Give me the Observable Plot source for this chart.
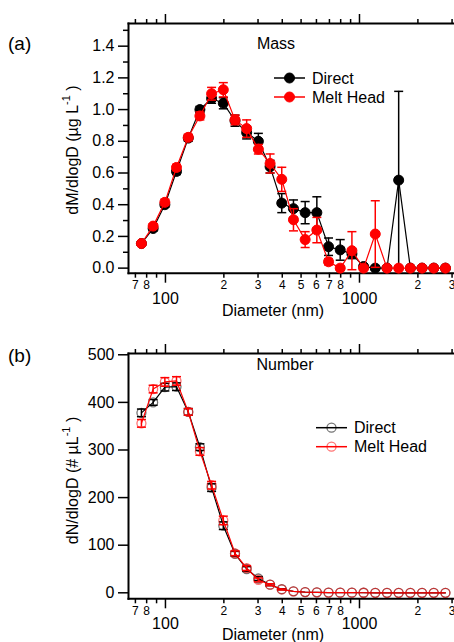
<!DOCTYPE html>
<html><head><meta charset="utf-8">
<script src="https://cdn.jsdelivr.net/npm/d3@7"></script>
<script src="https://cdn.jsdelivr.net/npm/@observablehq/plot@0.6"></script>
<style>
body{margin:0;background:#fff;font-family:"Liberation Sans",Arial,sans-serif;}
#wrap{position:relative;width:454px;height:642px;overflow:hidden;background:#fff;}
#a,#b{position:absolute;left:0;}
#a{top:0;}#b{top:320px;}
</style></head><body>
<div id="wrap"><div id="a"></div><div id="b"></div></div>
<script>
// Diameter bins (nm)
const diameter = [75.2, 86.4, 99.3, 114.0, 131.1, 150.5, 172.9, 198.7, 228.3, 262.1, 301.2, 346.1, 397.6, 456.8, 524.8, 602.9, 692.6, 795.6, 914.1, 1050, 1206, 1386, 1592, 1829, 2101, 2414, 2773];

// (a) Mass dM/dlogD (ug L-1)
const massDirect    = [0.155, 0.25, 0.40, 0.61, 0.82, 1.00, 1.07, 1.04, 0.93, 0.855, 0.80, 0.64, 0.41, 0.375, 0.35, 0.35, 0.135, 0.115, 0.09, 0.01, 0.00, 0.00, 0.555, 0.00, 0.00, 0.00, 0.00];
const massDirectErr = [0.01, 0.015, 0.015, 0.02, 0.02, 0.02, 0.03, 0.035, 0.035, 0.04, 0.05, 0.04, 0.06, 0.055, 0.07, 0.10, 0.055, 0.065, 0.03, 0.01, 0.01, 0, 0.56, 0, 0, 0, 0];
const massMelt      = [0.155, 0.265, 0.415, 0.635, 0.825, 0.96, 1.10, 1.125, 0.935, 0.88, 0.75, 0.66, 0.56, 0.305, 0.18, 0.24, 0.04, 0.00, 0.11, 0.00, 0.215, 0.00, 0.00, 0.00, 0.00, 0.00, 0.00];
const massMeltErr   = [0.01, 0.015, 0.02, 0.02, 0.02, 0.025, 0.04, 0.045, 0.03, 0.055, 0.03, 0.06, 0.076, 0.07, 0.05, 0.08, 0.02, 0, 0.12, 0, 0.21, 0, 0, 0, 0, 0, 0];

// (b) Number dN/dlogD (# uL-1)
const numDirect    = [378, 400, 432, 433, 380, 306, 221, 141, 82, 50, 30, 17, 7.5, 3, 1.5, 1, 0.5, 0.3, 0.2, 0.1, 0.05, 0, 0, 0, 0, 0, 0];
const numDirectErr = [8, 6, 8, 8, 7, 7, 8, 8, 5, 5, 4, 2, 1, 0, 0, 0, 0, 0, 0, 0, 0, 0, 0, 0, 0, 0, 0];
const numMelt      = [356, 428, 443, 445, 380, 297, 226, 152, 83, 52, 27, 17, 7, 3, 1.5, 1, 0.5, 0.3, 0.2, 0.1, 0.05, 0, 0, 0, 0, 0, 0];
const numMeltErr   = [8, 8, 9, 9, 7, 8, 8, 9, 5, 5, 4, 2, 1, 0, 0, 0, 0, 0, 0, 0, 0, 0, 0, 0, 0, 0, 0];

// Axis ticks
const xMinorTicks  = [70, 80, 90, 200, 300, 400, 500, 600, 700, 800, 900, 2000, 3000];
const xMinorLabels = ["7", "8", "", "2", "3", "4", "5", "6", "7", "8", "", "2", "3"];
const xMajorTicks  = [100, 1000];
const massMajorTicks = [0, 0.2, 0.4, 0.6, 0.8, 1.0, 1.2, 1.4];
const massMinorTicks = [0.1, 0.3, 0.5, 0.7, 0.9, 1.1, 1.3, 1.5];
const numMajorTicks  = [0, 100, 200, 300, 400, 500];

const seriesNames = ["Direct", "Melt Head"];
const seriesColors = ["#000000", "#ff0000"];

const cap = {draw(ctx) { ctx.moveTo(-4.5, 0); ctx.lineTo(4.5, 0); }};

function rows(vals, errs) {
  return diameter.map((d, i) => ({d, v: vals[i], e: errs[i]}));
}

function seriesMarks(data, color, filled) {
  const eb = data.filter(r => r.e > 0);
  return [
    Plot.ruleX(eb, {x: "d", y1: r => r.v - r.e, y2: r => r.v + r.e, stroke: color, strokeWidth: 1.5}),
    Plot.dot(eb, {x: "d", y: r => r.v + r.e, symbol: cap, fill: "none", stroke: color, strokeWidth: 1.5}),
    Plot.dot(eb, {x: "d", y: r => r.v - r.e, symbol: cap, fill: "none", stroke: color, strokeWidth: 1.5}),
    Plot.line(data, {x: "d", y: "v", stroke: color, strokeWidth: 1.2}),
    Plot.dot(data, {x: "d", y: "v", r: filled ? 5 : 4.5, fill: filled ? color : "none", stroke: color,
      strokeOpacity: filled ? 1 : 0.55, strokeWidth: filled ? 1 : 1.3})
  ];
}

function panel({series, yDomain, height, marginTop, marginBottom, yMajor, yMinor, yFormat, filled, minorDy}) {
  const marks = [
    Plot.frame({anchor: "left", strokeWidth: 2}),
    Plot.frame({anchor: "bottom", strokeWidth: 2}),
    Plot.frame({anchor: "top", strokeWidth: 2}),
    Plot.axisX({anchor: "top", ticks: xMinorTicks, tickSize: 5, tickFormat: () => "", label: null, strokeWidth: 1.5}),
    Plot.axisX({anchor: "top", ticks: xMajorTicks, tickSize: 10, tickFormat: () => "", label: null, strokeWidth: 1.5}),
    Plot.axisX({anchor: "bottom", ticks: xMinorTicks, tickSize: 5, tickFormat: () => "", label: null, strokeWidth: 1.5}),
    Plot.text(xMinorTicks, {x: d => d, text: (d, i) => xMinorLabels[i], frameAnchor: "bottom", dy: minorDy, fontSize: 12, lineAnchor: "middle"}),
    Plot.axisX({anchor: "bottom", ticks: xMajorTicks, tickSize: 10, tickPadding: 9, tickFormat: d => String(d), label: null, fontSize: 16, strokeWidth: 1.5}),
    Plot.axisY({ticks: yMajor, tickSize: 10, tickPadding: 4, tickFormat: yFormat, label: null, fontSize: 16, strokeWidth: 1.5})
  ];
  if (yMinor) marks.push(Plot.axisY({ticks: yMinor, tickSize: 5, tickFormat: () => "", label: null, strokeWidth: 1.5}));
  series.forEach((s, i) => marks.push(...seriesMarks(s, seriesColors[i], filled)));
  return Plot.plot({
    width: 454, height, marginLeft: 128, marginRight: 0, marginTop, marginBottom,
    x: {type: "log", domain: [64.5, 3088]},
    y: {domain: yDomain},
    style: {fontFamily: "Liberation Sans, Arial, sans-serif", fontSize: "16px", color: "#000", background: "transparent", overflow: "visible"},
    marks
  });
}

function annotate(svg, {tag, title, titleX, titleY, ylabel, ylabelY, xlabelY, legendX, legendY, filled}) {
  const s = d3.select(svg);
  const ff = "Liberation Sans, Arial, sans-serif";
  s.append("text").attr("x", 8).attr("y", tag[1]).attr("text-anchor", "start").attr("font-size", 19).attr("font-family", ff).attr("fill", "#000").text(tag[0]);
  s.append("text").attr("x", titleX).attr("y", titleY).attr("text-anchor", "middle").attr("font-size", 16).attr("font-family", ff).attr("fill", "#000").text(title);
  const yl = s.append("text").attr("transform", `translate(77.5,${ylabelY}) rotate(-90)`).attr("text-anchor", "middle")
    .attr("font-size", 16).attr("font-family", ff).attr("fill", "#000");
  yl.append("tspan").text(ylabel);
  yl.append("tspan").attr("font-size", 11).attr("dy", -8).text("-1");
  yl.append("tspan").attr("dy", 8).text(" )");
  s.append("text").attr("x", 273).attr("y", xlabelY).attr("text-anchor", "middle").attr("font-size", 16).attr("font-family", ff).attr("fill", "#000").text("Diameter (nm)");
  seriesNames.forEach((name, i) => {
    const y = legendY + i * 19;
    const c = seriesColors[i];
    s.append("line").attr("x1", legendX).attr("x2", legendX + 31).attr("y1", y).attr("y2", y).attr("stroke", c).attr("stroke-width", 1.5);
    s.append("circle").attr("cx", legendX + 15.5).attr("cy", y).attr("r", filled ? 5 : 4.5)
      .attr("fill", filled ? c : "none").attr("stroke", c).attr("stroke-opacity", filled ? 1 : 0.55).attr("stroke-width", filled ? 1 : 1.3);
    s.append("text").attr("x", legendX + 38).attr("y", y + 5.7).attr("text-anchor", "start").attr("font-size", 16).attr("font-family", ff).attr("fill", "#000").text(name);
  });
}

const svgA = panel({
  series: [rows(massDirect, massDirectErr), rows(massMelt, massMeltErr)],
  yDomain: [-0.032, 1.543], height: 320, marginTop: 23, marginBottom: 47.3,
  yMajor: massMajorTicks, yMinor: massMinorTicks, yFormat: d3.format(".1f"), filled: true, minorDy: 12
});
annotate(svgA, {tag: ["(a)", 49.5], title: "Mass", titleX: 276, titleY: 48.7, ylabel: "dM/dlogD (µg L", ylabelY: 150,
  xlabelY: 315.5, legendX: 274, legendY: 78, filled: true});
document.getElementById("a").appendChild(svgA);

const svgB = panel({
  series: [rows(numDirect, numDirectErr), rows(numMelt, numMeltErr)],
  yDomain: [-12.6, 502.7], height: 322, marginTop: 33, marginBottom: 43.7,
  yMajor: numMajorTicks, yMinor: null, yFormat: d3.format("d"), filled: false, minorDy: 12.4
});
annotate(svgB, {tag: ["(b)", 41.5], title: "Number", titleX: 285, titleY: 49.7, ylabel: "dN/dlogD (# µL", ylabelY: 160.5,
  xlabelY: 319.5, legendX: 316, legendY: 107.7, filled: false});
document.getElementById("b").appendChild(svgB);
</script>
</body></html>
